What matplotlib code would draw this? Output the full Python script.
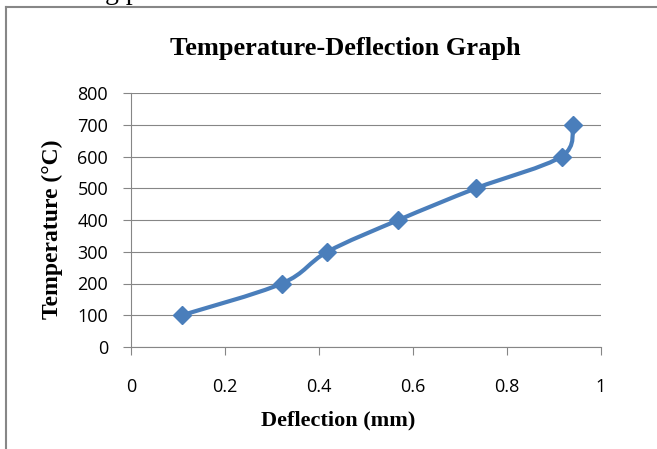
import matplotlib
matplotlib.use("Agg")
import matplotlib.pyplot as plt
from matplotlib.path import Path
from matplotlib.patches import PathPatch
from matplotlib.lines import Line2D

# Data
deflection_mm = [0.108, 0.321, 0.418, 0.569, 0.734, 0.916, 0.940]
temperature_c = [100, 200, 300, 400, 500, 600, 700]
x_ticks = [0, 0.2, 0.4, 0.6, 0.8, 1]
x_tick_labels = ["0", "0.2", "0.4", "0.6", "0.8", "1"]
y_ticks = [0, 100, 200, 300, 400, 500, 600, 700, 800]
title = "Temperature-Deflection Graph"
xlabel = "Deflection (mm)"
ylabel = "Temperature (°C)"

W, H = 657, 449
DPI = 100
fig = plt.figure(figsize=(W / DPI, H / DPI), dpi=DPI)
fig.patch.set_facecolor("white")

L, R, T, B = 131, 601, 93, 347
ax = fig.add_axes([L / W, 1 - B / H, (R - L) / W, (B - T) / H])
ax.set_xlim(0, 1)
ax.set_ylim(0, 800)

grid_c = "#868686"
for s in ["top", "right"]:
    ax.spines[s].set_visible(False)
for s in ["left", "bottom"]:
    ax.spines[s].set_color(grid_c)
    ax.spines[s].set_linewidth(0.8)

ax.set_xticks(x_ticks)
ax.set_xticklabels(x_tick_labels)
ax.set_yticks(y_ticks)
ax.yaxis.grid(True, color=grid_c, linewidth=0.8)
ax.set_axisbelow(True)
ax.tick_params(axis="both", colors=grid_c, length=6, width=0.8, direction="out",
               labelcolor="black", labelsize=13)
ax.tick_params(axis="x", pad=16)
ax.tick_params(axis="y", pad=10.5)
for lab in ax.get_xticklabels() + ax.get_yticklabels():
    lab.set_fontfamily("Open Sans")

# Smoothed line (Excel-style Catmull-Rom Bezier) through data points
blue = "#4A7EBB"
n = len(deflection_mm)
pts = list(zip(deflection_mm, temperature_c))
verts = [pts[0]]
codes = [Path.MOVETO]
for i in range(n - 1):
    p0 = pts[i - 1] if i > 0 else pts[i]
    p1 = pts[i]
    p2 = pts[i + 1]
    p3 = pts[i + 2] if i + 2 < n else pts[i + 1]
    c1 = (p1[0] + (p2[0] - p0[0]) / 6, p1[1] + (p2[1] - p0[1]) / 6)
    c2 = (p2[0] - (p3[0] - p1[0]) / 6, p2[1] - (p3[1] - p1[1]) / 6)
    verts += [c1, c2, p2]
    codes += [Path.CURVE4] * 3
path = Path(verts, codes)
ax.add_patch(PathPatch(path, facecolor="none", edgecolor=blue, linewidth=3.0,
                       capstyle="round", joinstyle="round", zorder=3))
ax.plot(deflection_mm, temperature_c, linestyle="none", marker="D",
        markersize=9, color=blue, zorder=4, clip_on=False)

# Titles
fig.text(345 / W, 1 - 49 / H, title, ha="center", va="center",
         fontfamily="Liberation Serif", fontweight="bold", fontsize=19)
fig.text(338 / W, 1 - 420 / H, xlabel, ha="center", va="center",
         fontfamily="Liberation Serif", fontweight="bold", fontsize=16)
fig.text(52 / W, 1 - 229 / H, ylabel, ha="center", va="center", rotation=90,
         fontfamily="Liberation Serif", fontweight="bold", fontsize=17)

# Chart frame (cut off at right and bottom) and clipped document text above
fc = "#878787"
fig.add_artist(Line2D([6 / W, 6 / W], [0, 1 - 7 / H], transform=fig.transFigure,
                      color=fc, linewidth=1.5))
fig.add_artist(Line2D([6 / W, 1], [1 - 7 / H, 1 - 7 / H], transform=fig.transFigure,
                      color=fc, linewidth=1.5))
fig.text(105 / W, 1 + 1 / H, "g p", ha="left", va="baseline",
         fontfamily="Liberation Serif", fontsize=20)

fig.savefig("out.png", dpi=DPI, facecolor="white")
